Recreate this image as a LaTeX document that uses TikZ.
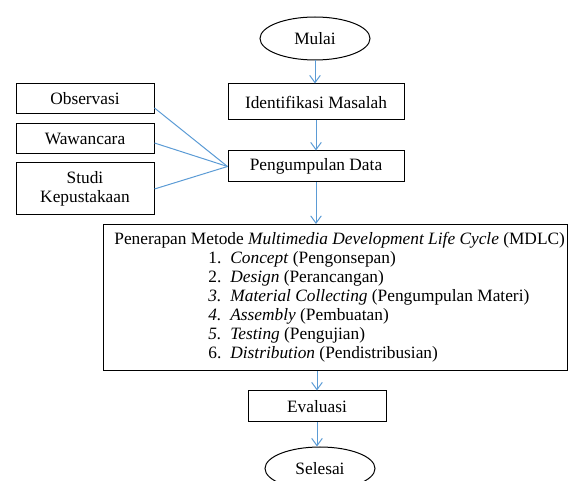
\documentclass[tikz,border=0pt]{standalone}
\usepackage{fontspec}
\setmainfont{Liberation Serif}
\usetikzlibrary{arrows.meta,shapes.geometric}
\definecolor{arrowblue}{RGB}{91,155,213}
\begin{document}
\begin{tikzpicture}[x=0.75pt,y=-0.75pt,
  font=\fontsize{13}{14.25}\selectfont,
  box/.style={draw=black,line width=0.75pt,rectangle,inner sep=0pt,align=center},
  term/.style={draw=black,line width=0.75pt,ellipse,inner sep=0pt,minimum width=82.5pt,minimum height=32.25pt},
  flow/.style={draw=arrowblue,line width=0.75pt,-{Straight Barb[length=5.5pt,width=8pt]}},
  link/.style={draw=arrowblue,line width=0.75pt}]
\useasboundingbox (0,0) rectangle (569,481);
\node[term] (mulai) at (315,38.5) {Mulai};
\node[box,minimum width=132pt,minimum height=27pt] (ident) at (316,102) {Identifikasi Masalah};
\node[box,minimum width=132pt,minimum height=23.25pt] (pd) at (316,166.5) {Pengumpulan Data};
\node[box,minimum width=103.5pt,minimum height=22.5pt] (obs) at (85,99) {Observasi};
\node[box,minimum width=103.5pt,minimum height=22.5pt] (waw) at (85,139) {Wawancara};
\node[box,minimum width=103.5pt,minimum height=39pt] (studi) at (85,189) {Studi\\Kepustakaan};
\node[box,minimum width=348pt,minimum height=109.5pt] (mdlc) at (335,297.5) {%
\hspace*{7pt}\begin{tabular}{@{}l@{}}
Penerapan Metode \textit{Multimedia Development Life Cycle} (MDLC)\\
\hspace{70.5pt}\makebox[16.5pt][l]{1.}\textit{Concept} (Pengonsepan)\\
\hspace{70.5pt}\makebox[16.5pt][l]{2.}\textit{Design} (Perancangan)\\
\hspace{70.5pt}\makebox[16.5pt][l]{\textit{3.}}\textit{Material Collecting} (Pengumpulan Materi)\\
\hspace{70.5pt}\makebox[16.5pt][l]{\textit{4.}}\textit{Assembly} (Pembuatan)\\
\hspace{70.5pt}\makebox[16.5pt][l]{\textit{5.}}\textit{Testing} (Pengujian)\\
\hspace{70.5pt}\makebox[16.5pt][l]{6.}\textit{Distribution} (Pendistribusian)
\end{tabular}};
\node[box,minimum width=103.5pt,minimum height=23.25pt] (eval) at (317,406.5) {Evaluasi};
\node[term] (selesai) at (320,468.5) {Selesai};
\draw[flow] (mulai.south) -- (mulai.south |- ident.north);
\draw[flow] (ident.south) -- (pd.north);
\draw[flow] (pd.south) -- (pd.south |- mdlc.north);
\draw[flow] (eval.north |- mdlc.south) -- (eval.north);
\draw[flow] (eval.south) -- (eval.south |- selesai.north);
\draw[link] ([yshift=-6.75pt]obs.east) -- (pd.west);
\draw[link] ([yshift=-3pt]waw.east) -- (pd.west);
\draw[link] (studi.east) -- (pd.west);
\end{tikzpicture}
\end{document}
